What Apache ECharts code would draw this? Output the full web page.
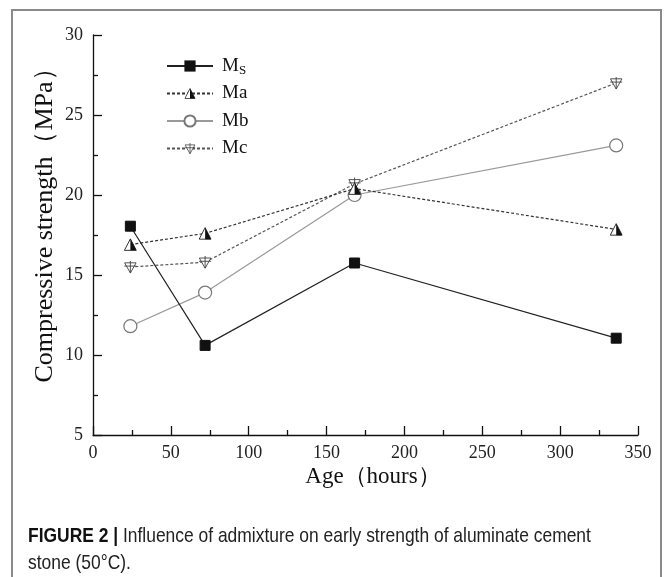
<!DOCTYPE html>
<html><head><meta charset="utf-8">
<script src="https://cdn.jsdelivr.net/npm/echarts@6/dist/echarts.min.js"></script>
<style>html,body{margin:0;padding:0;background:#fff}#c{width:665px;height:577px}</style>
</head><body><div id="c"></div>
<script>
var ages = [24, 72, 168, 336];
var seriesNames = ['Ms', 'Ma', 'Mb', 'Mc'];
var msValues = [18.05, 10.6, 15.75, 11.05];
var maValues = [16.9, 17.6, 20.4, 17.85];
var mbValues = [11.8, 13.9, 20.0, 23.1];
var mcValues = [15.5, 15.8, 20.7, 27.0];
var xTicks = [0, 50, 100, 150, 200, 250, 300, 350];
var yTicks = [5, 10, 15, 20, 25, 30];

function svgUri(s){ return 'image://data:image/svg+xml;charset=utf-8,' + encodeURIComponent(s); }
var triHalf = svgUri('<svg xmlns="http://www.w3.org/2000/svg" width="14" height="14" viewBox="0 0 14 14"><polygon points="7,0.8 13.4,13.2 0.6,13.2" fill="#fff" stroke="#222" stroke-width="1"/><polygon points="7,0.8 13.4,13.2 7,13.2" fill="#111"/></svg>');
var triDownCross = svgUri('<svg xmlns="http://www.w3.org/2000/svg" width="14" height="14" viewBox="0 0 14 14"><polygon points="0.8,2.5 13.2,2.5 7,13.5" fill="#fff" stroke="#444" stroke-width="1"/><line x1="7" y1="0" x2="7" y2="13.5" stroke="#444" stroke-width="1"/><line x1="0.5" y1="6" x2="13.5" y2="6" stroke="#444" stroke-width="1"/></svg>');

function pairs(v){ return ages.map(function(a,i){ return [a, v[i]]; }); }

var serif = 'Liberation Serif, Times New Roman, serif';
var sans = 'Liberation Sans, Arial, sans-serif';
var chart = echarts.init(document.getElementById('c'), null, {renderer:'canvas'});
chart.setOption({
  animation: false,
  backgroundColor: '#fff',
  grid: {left: 93, top: 35, right: 27, bottom: 142, containLabel: false},
  legend: {
    left: 166, top: 55, orient: 'vertical', padding: 0,
    itemWidth: 46, itemHeight: 14, itemGap: 5.5,
    textStyle: {fontFamily: serif, fontSize: 19, color: '#111', lineHeight: 22, padding: [0,0,0,4],
      rich: {sub: {fontFamily: serif, fontSize: 13, color: '#111', lineHeight: 22, verticalAlign: 'bottom', padding:[7,0,0,0]}}},
    formatter: function(n){ return n === 'Ms' ? 'M{sub|S}' : n; },
    data: seriesNames
  },
  xAxis: {
    type: 'value', min: 0, max: 350, interval: 50,
    axisLine: {lineStyle: {color: '#111', width: 1.3}},
    axisTick: {inside: true, length: 9, lineStyle: {color: '#111', width: 1.3}},
    minorTick: {show: true, splitNumber: 2, length: 5, lineStyle: {color: '#111', width: 1.3}},
    axisLabel: {fontFamily: serif, fontSize: 18, color: '#222', margin: 9},
    splitLine: {show: false}
  },
  yAxis: {
    type: 'value', min: 5, max: 30, interval: 5,
    axisLine: {show: true, lineStyle: {color: '#111', width: 1.3}},
    axisTick: {show: true, inside: true, length: 9, lineStyle: {color: '#111', width: 1.3}},
    minorTick: {show: true, splitNumber: 2, length: 5, lineStyle: {color: '#111', width: 1.3}},
    axisLabel: {fontFamily: serif, fontSize: 18, color: '#222', margin: 10},
    splitLine: {show: false}
  },
  series: [
    {name: 'Ms', type: 'line', data: pairs(msValues), symbol: 'rect', symbolSize: 10, z: 5,
     lineStyle: {color: '#222', width: 1.2}, itemStyle: {color: '#111', borderColor: '#111'}},
    {name: 'Ma', type: 'line', data: pairs(maValues), symbol: triHalf, symbolSize: 13, z: 4,
     lineStyle: {color: '#333', width: 1.2, type: [3,2]}, itemStyle: {color: '#222'}},
    {name: 'Mb', type: 'line', data: pairs(mbValues), symbol: 'circle', symbolSize: 13, z: 3,
     lineStyle: {color: '#999', width: 1.2}, itemStyle: {color: '#fff', borderColor: '#777', borderWidth: 1.2}},
    {name: 'Mc', type: 'line', data: pairs(mcValues), symbol: triDownCross, symbolSize: 13, z: 2,
     lineStyle: {color: '#555', width: 1.2, type: [3,2]}, itemStyle: {color: '#555'}}
  ],
  graphic: [
    {type: 'rect', x: 12, y: 10, shape: {width: 649, height: 600},
     style: {fill: 'none', stroke: '#8a8a8a', lineWidth: 2}, silent: true, z: -10},
    {type: 'text', x: 45, y: 219, rotation: Math.PI / 2, style: {
      text: 'Compressive strength（MPa）', fontFamily: serif, fontSize: 26, fill: '#111',
      align: 'center', verticalAlign: 'middle'}},
    {type: 'text', x: 373, y: 477, style: {
      text: 'Age（hours）', fontFamily: serif, fontSize: 23, fill: '#111',
      align: 'center', verticalAlign: 'middle'}},
    {type: 'text', x: 28, y: 536, scaleX: 0.83, style: {
      text: '{b|FIGURE 2 |}{n| Influence of admixture on early strength of aluminate cement}',
      verticalAlign: 'middle',
      rich: {b: {fontFamily: sans, fontWeight: 'bold', fontSize: 21, fill: '#111'},
             n: {fontFamily: sans, fontSize: 21, fill: '#222'}}}},
    {type: 'text', x: 28, y: 563, scaleX: 0.83, style: {
      text: 'stone (50°C).', fontFamily: sans, fontSize: 21, fill: '#222', verticalAlign: 'middle'}}
  ]
});
</script></body></html>
